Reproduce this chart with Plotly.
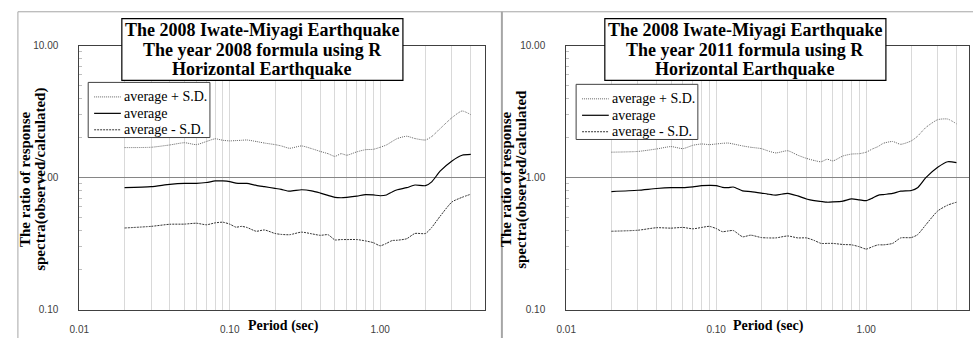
import plotly.graph_objects as go

W, H = 973, 338

periods = [0.02, 0.03, 0.04, 0.05, 0.06, 0.07, 0.08, 0.09, 0.10, 0.11, 0.12, 0.13,
           0.15, 0.17, 0.20, 0.22, 0.25, 0.30, 0.35, 0.40, 0.45, 0.50, 0.55, 0.60,
           0.70, 0.80, 0.90, 1.00, 1.10, 1.20, 1.30, 1.50, 1.70, 2.00, 2.20, 2.50,
           3.00, 3.50, 4.00]

# Left panel: 2008 formula
avg_2008 = [0.84, 0.855, 0.89, 0.905, 0.905, 0.92, 0.945, 0.945, 0.935, 0.91, 0.905, 0.905,
            0.875, 0.855, 0.83, 0.815, 0.79, 0.81, 0.795, 0.765, 0.735, 0.71, 0.705, 0.71,
            0.725, 0.745, 0.74, 0.73, 0.74, 0.78, 0.81, 0.84, 0.88, 0.87, 0.93, 1.12,
            1.34, 1.48, 1.50]
plus_2008 = [1.69, 1.70, 1.77, 1.84, 1.78, 1.88, 1.97, 1.92, 1.90, 1.91, 1.92, 1.93,
             1.88, 1.83, 1.78, 1.74, 1.67, 1.74, 1.66, 1.58, 1.52, 1.45, 1.52, 1.48,
             1.57, 1.63, 1.64, 1.70, 1.77, 1.88, 1.98, 2.06, 1.98, 1.93, 2.05, 2.35,
             2.85, 3.20, 3.00]
minus_2008 = [0.416, 0.428, 0.444, 0.445, 0.452, 0.44, 0.455, 0.46, 0.445, 0.422, 0.428, 0.42,
              0.393, 0.402, 0.378, 0.372, 0.37, 0.387, 0.376, 0.366, 0.37, 0.338, 0.34, 0.34,
              0.34, 0.332, 0.322, 0.305, 0.318, 0.334, 0.336, 0.345, 0.378, 0.378, 0.42, 0.51,
              0.655, 0.71, 0.75]

# Right panel: 2011 formula
avg_2011 = [0.785, 0.803, 0.828, 0.84, 0.84, 0.853, 0.87, 0.875, 0.872, 0.845, 0.84, 0.85,
            0.795, 0.785, 0.765, 0.752, 0.738, 0.762, 0.728, 0.69, 0.67, 0.66, 0.652, 0.655,
            0.665, 0.69, 0.68, 0.67, 0.70, 0.735, 0.745, 0.76, 0.79, 0.80, 0.84, 1.00,
            1.20, 1.32, 1.30]
plus_2011 = [1.56, 1.58, 1.65, 1.72, 1.66, 1.76, 1.80, 1.78, 1.80, 1.82, 1.83, 1.80,
             1.74, 1.70, 1.66, 1.60, 1.54, 1.60, 1.48, 1.40, 1.35, 1.32, 1.38, 1.34,
             1.46, 1.51, 1.52, 1.56, 1.65, 1.72, 1.82, 1.88, 1.79, 1.90, 2.06, 2.40,
             2.75, 2.78, 2.56]
minus_2011 = [0.393, 0.40, 0.418, 0.415, 0.42, 0.41, 0.42, 0.428, 0.412, 0.39, 0.395, 0.398,
              0.357, 0.367, 0.352, 0.35, 0.35, 0.362, 0.35, 0.35, 0.335, 0.318, 0.318, 0.318,
              0.312, 0.31, 0.30, 0.288, 0.30, 0.31, 0.31, 0.318, 0.35, 0.352, 0.37, 0.44,
              0.56, 0.62, 0.652]

series_names = ["average + S.D.", "average", "average - S.D."]
titles_left = ["The 2008 Iwate-Miyagi Earthquake", "The year 2008 formula using R", "Horizontal Earthquake"]
titles_right = ["The 2008 Iwate-Miyagi Earthquake", "The year 2011 formula using R", "Horizontal Earthquake"]
ytitle_left = ["The ratio of response", "spectra(observed/calculated)"]
ytitle_right = ["The ratio of response", "spectra(observed/calculated"]
xtitle = "Period (sec)"

x_major = [0.01, 0.1, 1.0]
x_major_text = ["0.01", "0.10", "1.00"]
x_minor = [0.02, 0.03, 0.04, 0.05, 0.06, 0.07, 0.08, 0.09,
           0.2, 0.3, 0.4, 0.5, 0.6, 0.7, 0.8, 0.9, 2, 3, 4]
y_major = [0.1, 1.0, 10.0]
y_major_text = ["0.10", "1.00", "10.00"]
y_minor = [0.2, 0.3, 0.4, 0.5, 0.6, 0.7, 0.8, 0.9, 2, 3, 4, 5, 6, 7, 8, 9]

SERIF = "Liberation Serif"
SANS = "Liberation Sans"

def px(x):
    return x / W

def py(y):
    return (H - y) / H

fig = go.Figure()

styles = [dict(color="#666666", width=1, dash="1px,1px"),
          dict(color="black", width=1.2),
          dict(color="#333333", width=1, dash="2px,1px")]

for (xa, ya, data) in [("x", "y", [plus_2008, avg_2008, minus_2008]),
                       ("x2", "y2", [plus_2011, avg_2011, minus_2011])]:
    for name, vals, st in zip(series_names, data, styles):
        fig.add_trace(go.Scatter(x=periods, y=vals, name=name, mode="lines",
                                 line=dict(shape="spline", smoothing=0.6, **st),
                                 xaxis=xa, yaxis=ya, showlegend=False))

def xaxis_cfg(domain, rng):
    return dict(type="log", domain=domain, range=rng,
                tickmode="array", tickvals=x_major, ticktext=x_major_text,
                showgrid=True, gridcolor="#d9d9d9", gridwidth=1,
                minor=dict(tickmode="array", tickvals=x_minor, showgrid=True,
                           gridcolor="#d9d9d9", gridwidth=1, ticks=""),
                ticks="", showline=True, linecolor="#404040", linewidth=1, mirror=True,
                tickfont=dict(family=SANS, size=10, color="#404040"),
                ticklabelstandoff=10, zeroline=False)

def yaxis_cfg(anchor):
    return dict(type="log", domain=[py(315), py(42)], range=[-1, 1], anchor=anchor,
                tickmode="array", tickvals=y_major, ticktext=y_major_text,
                showgrid=True, gridcolor="#868686", gridwidth=1,
                minor=dict(tickmode="array", tickvals=y_minor, showgrid=False,
                           ticks="inside", ticklen=3, tickcolor="#bfbfbf"),
                ticks="", showline=True, linecolor="#404040", linewidth=1, mirror=True,
                tickfont=dict(family=SANS, size=10, color="#404040"),
                ticklabelstandoff=18, zeroline=False)

fig.update_layout(
    width=W, height=H, margin=dict(l=0, r=0, t=0, b=0),
    paper_bgcolor="white", plot_bgcolor="white",
    xaxis=dict(**xaxis_cfg([px(70), px(480)], [-2, 0.697]), anchor="y"),
    yaxis=yaxis_cfg("x"),
    xaxis2=dict(**xaxis_cfg([px(562), px(969)], [-2, 0.686]), anchor="y2"),
    yaxis2=yaxis_cfg("x2"),
    showlegend=False,
)

shapes = []
ann = []
# panel borders
shapes.append(dict(type="line", xref="paper", yref="paper", x0=px(8), x1=1.05, y0=py(7), y1=py(7),
                   line=dict(color="#a6a6a6", width=1)))
shapes.append(dict(type="line", xref="paper", yref="paper", x0=px(8), x1=px(8), y0=py(7), y1=-0.05,
                   line=dict(color="#a6a6a6", width=1)))
shapes.append(dict(type="line", xref="paper", yref="paper", x0=px(497), x1=px(497), y0=py(7), y1=-0.05,
                   line=dict(color="#a6a6a6", width=2)))
# title boxes
for cx in (255, 743):
    shapes.append(dict(type="rect", xref="paper", yref="paper", x0=px(cx - 142), x1=px(cx + 142),
                       y0=py(78), y1=py(14), fillcolor="white", line=dict(color="black", width=1.2),
                       layer="above"))
# legends (box, line samples, labels)
for lx, ly in ((79, 80), (572, 82)):
    shapes.append(dict(type="rect", xref="paper", yref="paper", x0=px(lx), x1=px(lx + 123),
                       y0=py(ly + 57), y1=py(ly), fillcolor="white",
                       line=dict(color="#404040", width=1), layer="above"))
    for i, (name, st) in enumerate(zip(series_names, styles)):
        yy = ly + 15 + 17 * i
        shapes.append(dict(type="line", xref="paper", yref="paper", x0=px(lx + 6), x1=px(lx + 33),
                           y0=py(yy), y1=py(yy), line=st, layer="above"))
        ann.append(dict(x=px(lx + 34), y=py(yy), xref="paper", yref="paper", text=name,
                        showarrow=False, xanchor="left", yanchor="middle",
                        font=dict(family=SERIF, size=14, color="black")))
fig.update_layout(shapes=shapes)

for cx, lines in ((255, titles_left), (743, titles_right)):
    for i, t in enumerate(lines):
        ann.append(dict(x=px(cx), y=py(26 + 20 * i), xref="paper", yref="paper", text="<b>%s</b>" % t,
                        showarrow=False, xanchor="center", yanchor="middle",
                        font=dict(family=SERIF, size=18, color="black")))
for cxs, lines in (((15, 30), ytitle_left), ((501, 516), ytitle_right)):
    for cx, t in zip(cxs, lines):
        ann.append(dict(x=px(cx), y=py(180), xref="paper", yref="paper", text="<b>%s</b>" % t,
                        showarrow=False, xanchor="center", yanchor="middle", textangle=-90,
                        font=dict(family=SERIF, size=15, color="black")))
for cx in (276, 766):
    ann.append(dict(x=px(cx), y=0, xref="paper", yref="paper", text="<b>%s</b>" % xtitle,
                    showarrow=False, xanchor="center", yanchor="bottom", borderpad=0, yshift=-3,
                    font=dict(family=SERIF, size=14, color="black")))
fig.update_layout(annotations=ann)

fig.write_html("out.html")
